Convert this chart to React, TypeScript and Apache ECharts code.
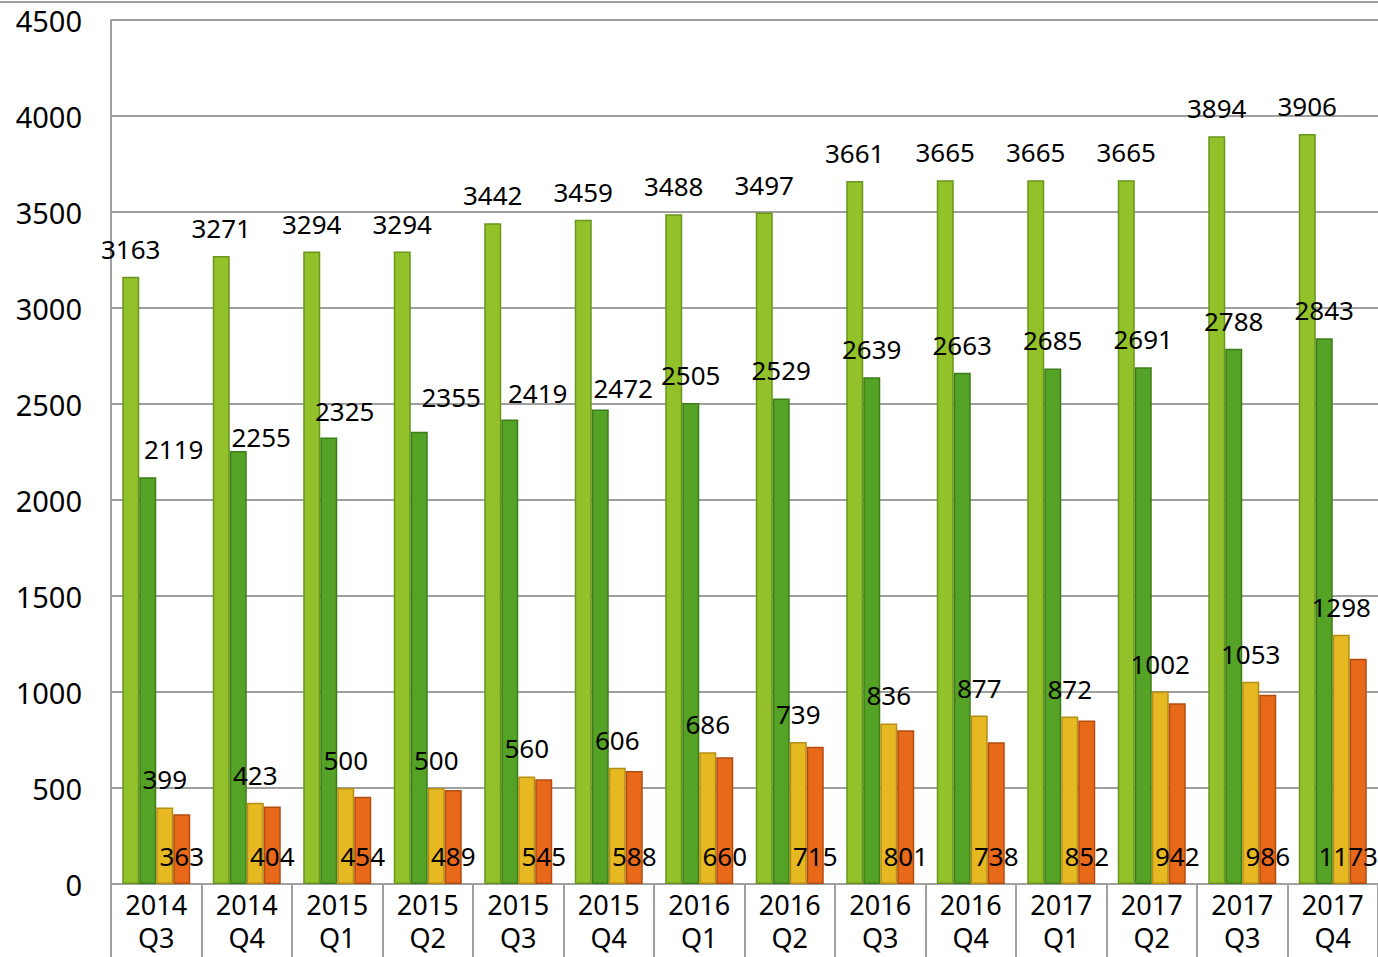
import React, { useEffect, useRef } from "react";
import * as echarts from "echarts";

const categories = [
  "2014\nQ3", "2014\nQ4", "2015\nQ1", "2015\nQ2", "2015\nQ3", "2015\nQ4", "2016\nQ1",
  "2016\nQ2", "2016\nQ3", "2016\nQ4", "2017\nQ1", "2017\nQ2", "2017\nQ3", "2017\nQ4",
];
const seriesA = [3163, 3271, 3294, 3294, 3442, 3459, 3488, 3497, 3661, 3665, 3665, 3665, 3894, 3906];
const seriesB = [2119, 2255, 2325, 2355, 2419, 2472, 2505, 2529, 2639, 2663, 2685, 2691, 2788, 2843];
const seriesC = [399, 423, 500, 500, 560, 606, 686, 739, 836, 877, 872, 1002, 1053, 1298];
const seriesD = [363, 404, 454, 489, 545, 588, 660, 715, 801, 738, 852, 942, 986, 1173];

// label nudges (pixel offsets, as placed in the source chart)
const seriesBLabelShift: [number, number][] = [
  [26, 0], [23, 14], [16, 1], [32, -7], [28, 1], [23, 7],
  [0, 0], [0, 0], [0, 0], [0, 0], [0, 0], [0, 0], [0, 0], [0, 0],
];
const seriesDLabelShift: [number, number][] = [
  [0, 0], [0, 0], [0, 0], [0, 0], [0, 0], [0, 0], [0, 0],
  [0, 0], [0, 0], [0, 0], [0, 0], [0, 0], [0, 0], [-10, 0],
];

const FONT = "Noto Sans";
const GRID = "#a0a0a0";

export default function App() {
  const ref = useRef<HTMLDivElement>(null);
  useEffect(() => {
    if (!ref.current) return;
    const chart = echarts.init(ref.current, null, { renderer: "svg" });
    const labelBase = {
      show: true,
      color: "#000",
      fontFamily: FONT,
      fontSize: 26,
    };
    const mk = (name: string, data: any[], color: string, border: string, label: any) => ({
      name,
      type: "bar",
      data,
      barWidth: 17,
      barGap: "0%",
      itemStyle: { color, borderColor: border, borderWidth: 1.5 },
      label,
    });
    const withShift = (vals: number[], shifts: [number, number][]) =>
      vals.map((v, i) => ({ value: v, label: { offset: shifts[i] } }));
    chart.setOption({
      animation: false,
      backgroundColor: "#fff",
      grid: { left: 111, right: 0, top: 20, bottom: 73, containLabel: false },
      graphic: [
        {
          type: "line",
          shape: { x1: 0, y1: 2, x2: 1378, y2: 2 },
          style: { stroke: GRID, lineWidth: 2 },
        },
      ],
      xAxis: {
        type: "category",
        data: categories,
        axisLine: { show: true, lineStyle: { color: GRID, width: 2 } },
        axisTick: { show: true, length: 75, interval: 0, lineStyle: { color: GRID, width: 2 } },
        axisLabel: {
          interval: 0,
          color: "#000",
          fontFamily: FONT,
          fontSize: 27,
          lineHeight: 33,
          margin: 4,
        },
      },
      yAxis: {
        type: "value",
        min: 0,
        max: 4500,
        interval: 500,
        axisLine: { show: true, lineStyle: { color: GRID, width: 2 } },
        axisTick: { show: false },
        splitLine: { show: true, lineStyle: { color: GRID, width: 2 } },
        axisLabel: {
          color: "#000",
          fontFamily: FONT,
          fontSize: 29,
          margin: 29,
          formatter: (v: number) => String(v),
        },
      },
      series: [
        mk("A", seriesA, "#92c12a", "#6a961c", { ...labelBase, position: "top", distance: 15 }),
        mk("B", withShift(seriesB, seriesBLabelShift), "#54a226", "#3d7d1a", {
          ...labelBase,
          position: "top",
          distance: 15,
        }),
        mk("C", seriesC, "#e6b923", "#b58e14", { ...labelBase, position: "top", distance: 15 }),
        mk("D", withShift(seriesD, seriesDLabelShift), "#e8691a", "#b24c10", {
          ...labelBase,
          position: "insideBottom",
          distance: 15,
        }),
      ],
    });
    return () => chart.dispose();
  }, []);
  return (
    <div
      ref={ref}
      style={{ position: "fixed", left: 0, top: 0, width: 1378, height: 957, background: "#fff" }}
    />
  );
}
